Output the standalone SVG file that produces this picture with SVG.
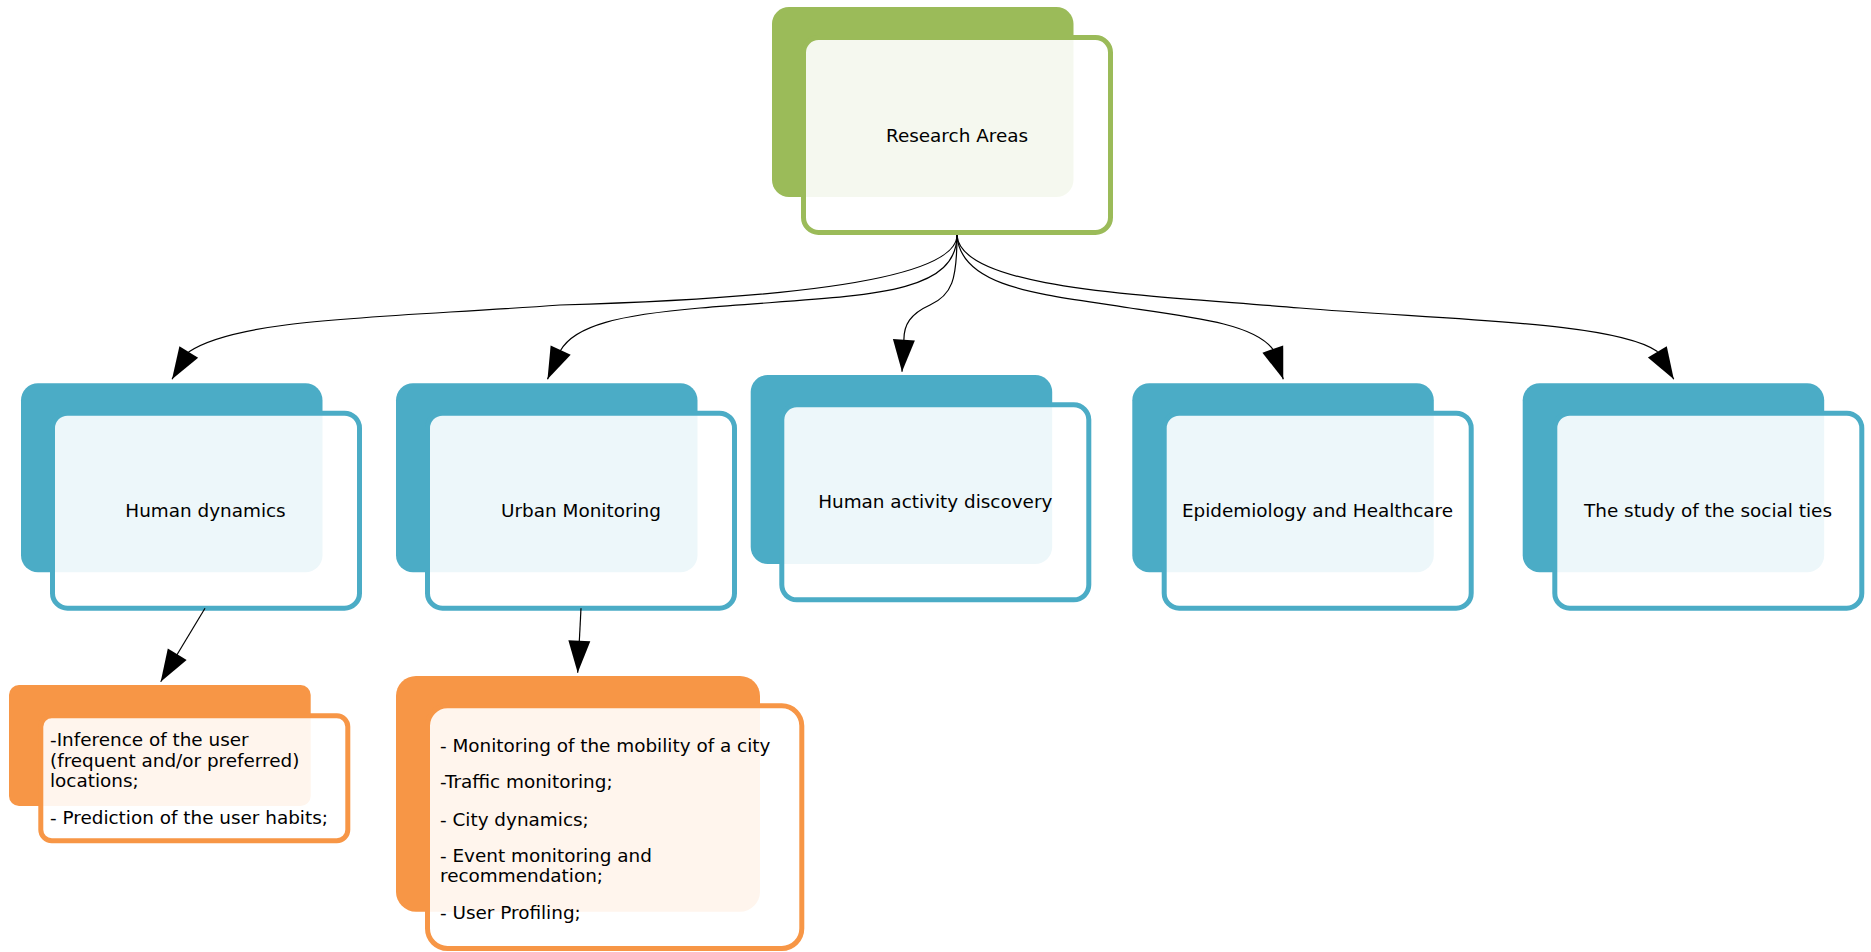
<svg xmlns="http://www.w3.org/2000/svg" width="1871" height="952" viewBox="0 0 1871 952">
<style>
  .txt { font-family: "DejaVu Sans", "Liberation Sans", sans-serif; font-size: 18.4px; fill: #000; }
  .mid { text-anchor: middle; }
  .front { fill: #ffffff; fill-opacity: 0.9; stroke-width: 5; }
  .g .back { fill: #9bbb59; }
  .g .front { stroke: #9bbb59; }
  .b .back { fill: #4bacc6; }
  .b .front { stroke: #4bacc6; }
  .o .back { fill: #f79646; }
  .o .front { stroke: #f79646; }
  .edge { fill: none; stroke: #000; stroke-width: 1.2; marker-end: url(#arrow); }
</style>
<defs>
  <marker id="arrow" markerUnits="userSpaceOnUse" markerWidth="34" markerHeight="24" refX="32" refY="11" orient="auto" overflow="visible">
    <path d="M0,0 L32,11 L0,22 Z" fill="#000"/>
  </marker>
</defs>
<rect width="1871" height="952" fill="#ffffff"/>

<g id="research-areas" class="g">
  <rect class="back" x="772" y="7" width="301.5" height="190" rx="17"/>
  <rect class="front" x="803.5" y="37.5" width="307" height="195" rx="15"/>
  <text class="txt mid" x="957" y="141.7">Research Areas</text>
</g>

<g id="human-dynamics" class="b">
  <rect class="back" x="21" y="383.3" width="301.5" height="189" rx="17"/>
  <rect class="front" x="52.5" y="413.2" width="307" height="195" rx="15"/>
  <text class="txt mid" x="205.5" y="516.7">Human dynamics</text>
</g>

<g id="urban-monitoring" class="b">
  <rect class="back" x="396" y="383.3" width="301.5" height="189" rx="17"/>
  <rect class="front" x="427.5" y="413.2" width="307" height="195" rx="15"/>
  <text class="txt mid" x="581" y="516.7">Urban Monitoring</text>
</g>

<g id="human-activity-discovery" class="b">
  <rect class="back" x="750.7" y="375" width="301.5" height="189" rx="17"/>
  <rect class="front" x="781.8" y="404.8" width="307" height="195" rx="15"/>
  <text class="txt mid" x="935.3" y="508.3">Human activity discovery</text>
</g>

<g id="epidemiology-healthcare" class="b">
  <rect class="back" x="1132.3" y="383.3" width="301.5" height="189" rx="17"/>
  <rect class="front" x="1164.2" y="413.2" width="307" height="195" rx="15"/>
  <text class="txt mid" x="1317.5" y="516.7">Epidemiology and Healthcare</text>
</g>

<g id="social-ties" class="b">
  <rect class="back" x="1522.7" y="383.3" width="301.5" height="189" rx="17"/>
  <rect class="front" x="1554.8" y="413.2" width="307" height="195" rx="15"/>
  <text class="txt mid" x="1708" y="516.7">The study of the social ties</text>
</g>

<g id="human-dynamics-details" class="o">
  <rect class="back" x="9" y="685" width="301.7" height="121" rx="10"/>
  <rect class="front" x="40.8" y="715.8" width="307" height="125" rx="11"/>
  <text class="txt" x="50" y="746">-Inference of the user</text>
  <text class="txt" x="50" y="766.7">(frequent and/or preferred)</text>
  <text class="txt" x="50" y="786.7">locations;</text>
  <text class="txt" x="50" y="824">- Prediction of the user habits;</text>
</g>

<g id="urban-monitoring-details" class="o">
  <rect class="back" x="396" y="676" width="364" height="235.7" rx="20"/>
  <rect class="front" x="427.5" y="705.8" width="374.3" height="242.7" rx="20"/>
  <text class="txt" x="440" y="751.7">- Monitoring of the mobility of a city</text>
  <text class="txt" x="440" y="788.3">-Traffic monitoring;</text>
  <text class="txt" x="440" y="825.7">- City dynamics;</text>
  <text class="txt" x="440" y="862.3">- Event monitoring and</text>
  <text class="txt" x="440" y="882.3">recommendation;</text>
  <text class="txt" x="440" y="919.3">- User Profiling;</text>
</g>

<g id="connectors">
  <path class="edge" d="M957,235 C957,285 740,300 560,305 C380,318 240,318 189,351.7 L172,379.3"/>
  <path class="edge" d="M957,235 C957,300 850,295 700,308 C620,315 575,325 560.5,350.5 L547.5,379.3"/>
  <path class="edge" d="M957,235 C957,280 952,295 930,305 C910,314 904,325 903.9,339.5 L902,371.7"/>
  <path class="edge" d="M957,235 C960,290 1050,295 1130,308 C1200,318 1255,325 1272.9,349.3 L1283.3,379.3"/>
  <path class="edge" d="M957,235 C960,290 1150,295 1300,308 C1450,320 1615,322 1657,351.3 L1673.8,379.3"/>
  <path class="edge" d="M205,608.3 L160.7,681.7"/>
  <path class="edge" d="M581,608.3 L577.7,672.7"/>
</g>
</svg>
